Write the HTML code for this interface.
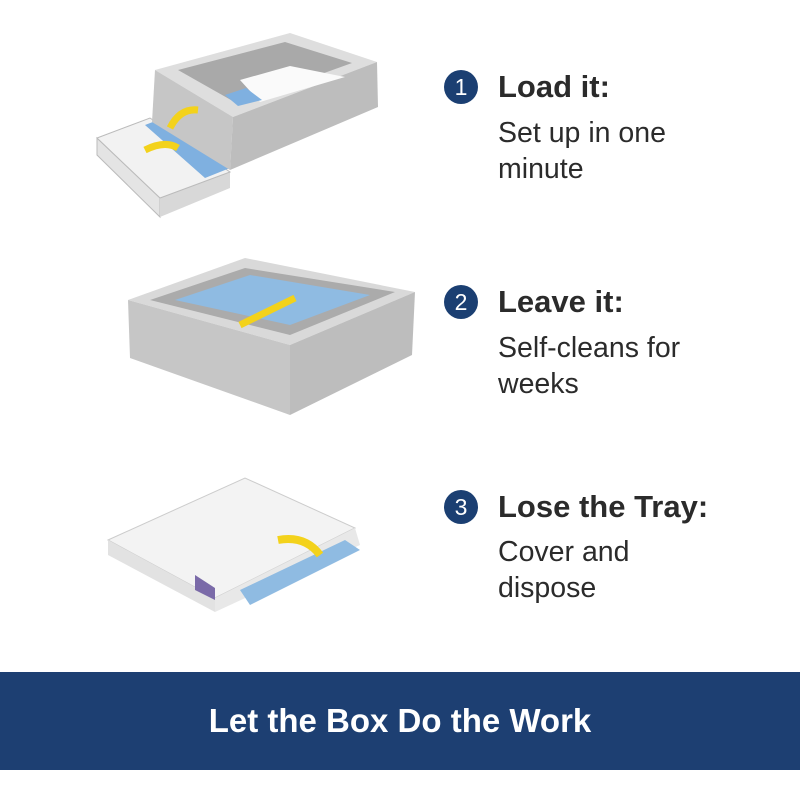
<!DOCTYPE html>
<html><head><meta charset="utf-8"><style>
body{margin:0;width:800px;height:800px;background:#fff;position:relative;overflow:hidden;font-family:"Liberation Sans",sans-serif}
.c{position:absolute;width:34px;height:34px;border-radius:50%;background:#1b3f72;color:#fff;font-size:23px;text-align:center;line-height:34px}
.h{position:absolute;font-size:31px;font-weight:bold;color:#2b2b2b;letter-spacing:0px}
.t{position:absolute;font-size:28.5px;color:#2b2b2b;line-height:36px}
.ban{position:absolute;left:0;top:672px;width:800px;height:98px;background:#1d3f72;color:#fff;font-size:33px;font-weight:bold;text-align:center;line-height:98px}
</style></head><body>
<svg width="800" height="672" style="position:absolute;left:0;top:0">
<!-- device 1 tray -->
<polygon points="97,138 160,198 160,217 97,155" fill="#e4e4e4" stroke="#bbb"/>
<polygon points="160,198 230,172 230,188 160,217" fill="#d8d8d8"/>
<polygon points="97,138 150,118 230,172 160,198" fill="#f2f2f2" stroke="#bbb"/>
<polygon points="145,125 158,120 230,168 205,178" fill="#7fb0e0"/>
<!-- device 1 box -->
<polygon points="155,70 290,33 377,62 233,117" fill="#dedede"/>
<polygon points="155,70 233,117 230,170 152,122" fill="#c6c6c6"/>
<polygon points="233,117 377,62 378,107 230,170" fill="#bdbdbd"/>
<polygon points="178,70 285,42 352,63 238,104" fill="#a9a9a9"/>
<polygon points="240,80 290,66 345,77 260,102" fill="#fafafa"/>
<polygon points="225,95 246,88 262,100 238,106" fill="#7fb0e0"/>
<path d="M170,128 Q180,108 198,110" stroke="#f3d21b" stroke-width="7" fill="none"/>
<path d="M145,150 Q165,140 178,148" stroke="#f3d21b" stroke-width="7" fill="none"/>
<!-- device 2 -->
<polygon points="128,300 245,258 415,292 290,345" fill="#d9d9d9"/>
<polygon points="150,300 245,268 395,292 290,335" fill="#ababab"/>
<polygon points="175,300 250,275 370,295 290,325" fill="#8fbbe2"/>
<polygon points="128,300 290,345 290,415 130,358" fill="#c6c6c6"/>
<polygon points="290,345 415,292 412,355 290,415" fill="#bdbdbd"/>
<path d="M240,325 L295,298" stroke="#f3d21b" stroke-width="7"/>
<!-- device 3 -->
<polygon points="108,540 245,478 355,528 215,598" fill="#f3f3f3" stroke="#ccc"/>
<polygon points="108,540 215,598 215,612 108,555" fill="#e2e2e2"/>
<polygon points="215,598 355,528 360,545 215,612" fill="#e8e8e8"/>
<polygon points="240,590 345,540 360,550 250,605" fill="#8fbbe2"/>
<polygon points="195,575 215,588 215,600 195,590" fill="#7a6aa8"/>
<path d="M278,540 Q305,535 320,555" stroke="#f3d21b" stroke-width="8" fill="none"/>
</svg>
<div class="c" style="left:444px;top:70px">1</div>
<div class="h" style="left:498px;top:69px">Load it:</div>
<div class="t" style="left:498px;top:115px">Set up in one<br>minute</div>
<div class="c" style="left:444px;top:285px">2</div>
<div class="h" style="left:498px;top:284px">Leave it:</div>
<div class="t" style="left:498px;top:330px">Self-cleans for<br>weeks</div>
<div class="c" style="left:444px;top:490px">3</div>
<div class="h" style="left:498px;top:489px">Lose the Tray:</div>
<div class="t" style="left:498px;top:534px">Cover and<br>dispose</div>
<div class="ban">Let the Box Do the Work</div>
</body></html>
